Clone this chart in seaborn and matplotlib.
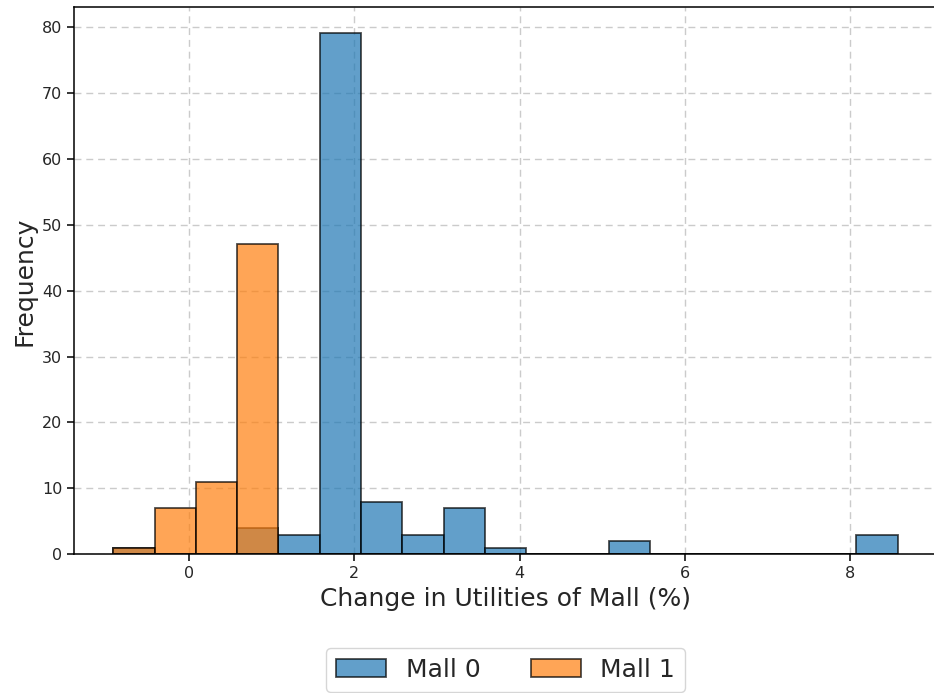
import numpy as np
import pandas as pd
import matplotlib
matplotlib.use("Agg")
import matplotlib.pyplot as plt
import seaborn as sns

# Shared bin edges for both malls
bin_edges = np.linspace(-0.92, 8.58, 20)
bin_centers = (bin_edges[:-1] + bin_edges[1:]) / 2

# Counts per bin
mall0_counts = [1, 0, 0, 4, 3, 79, 8, 3, 7, 1, 0, 0, 2, 0, 0, 0, 0, 0, 3]
mall1_counts = [1, 7, 11, 47, 0, 0, 0, 0, 0, 0, 0, 0, 0, 0, 0, 0, 0, 0, 0]

series = [("Mall 0", mall0_counts, "#1f77b4"), ("Mall 1", mall1_counts, "#ff7f0e")]

sns.set_style("white")
plt.rcParams["font.family"] = ["DejaVu Sans"]

fig = plt.figure(figsize=(9.34, 6.93), dpi=100)
ax = fig.add_axes([74 / 934, 0.2, 863 / 934, 0.7895])

for name, counts, color in series:
    df = pd.DataFrame({"x": bin_centers, "w": counts})
    sns.histplot(data=df, x="x", weights="w", bins=bin_edges.tolist(), ax=ax,
                 color=color, alpha=0.7, edgecolor=(0, 0, 0, 0.7), linewidth=1.3,
                 label=name)

ax.set_xlabel("Change in Utilities of Mall (%)", fontsize=18)
ax.set_ylabel("Frequency", fontsize=18)
ax.grid(True, linestyle=(0, (5, 3.5)), color="#b0b0b0", alpha=0.65, linewidth=1.0)
ax.set_axisbelow(True)
for s in ax.spines.values():
    s.set_visible(True)
    s.set_color("black")
    s.set_linewidth(1.1)
ax.tick_params(axis="both", which="both", bottom=True, left=True, length=5,
               width=1.1, labelsize=11.5, colors="black", labelcolor="#262626")

ax.legend(loc="upper center", bbox_to_anchor=(0.5, -0.148), ncol=2, fontsize=18)

fig.savefig("out.png", dpi=100)
